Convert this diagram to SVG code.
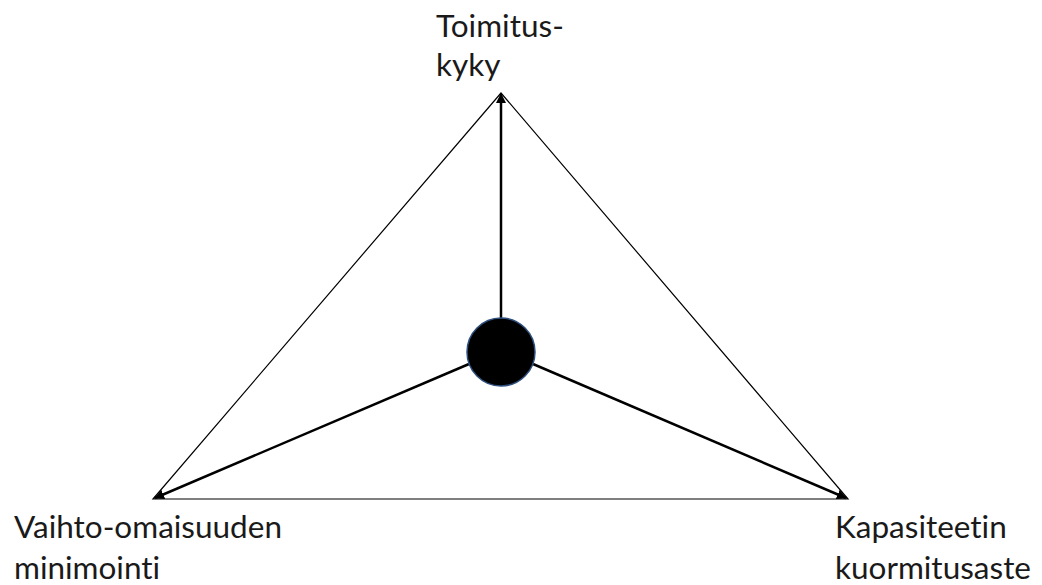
<svg xmlns="http://www.w3.org/2000/svg" width="1042" height="585" viewBox="0 0 1042 585">
<style>
.lbl{font-family:"Lato","Liberation Sans",sans-serif;font-size:31.5px;fill:#1a1a1a;font-variant-ligatures:none;font-feature-settings:"liga" 0,"dlig" 0}
.thin{stroke:#000;stroke-width:1.2;fill:none}
.thick{stroke:#000;stroke-width:2.5;fill:none;marker-end:url(#ah)}
</style>
<defs>
<marker id="ah" viewBox="0 0 10 10" refX="9" refY="5" markerWidth="4" markerHeight="4" orient="auto" markerUnits="strokeWidth">
<path d="M0,0 L10,5 L0,10 z" fill="#000"/>
</marker>
</defs>
<rect width="1042" height="585" fill="#fff"/>
<g id="triangle">
<polygon class="thin" points="501,93 153,499 848,499"/>
</g>
<g id="connectors">
<line class="thick" x1="501" y1="318" x2="501" y2="94"/>
<line class="thick" x1="469" y1="364" x2="155" y2="498"/>
<line class="thick" x1="533" y1="364" x2="846" y2="498"/>
</g>
<g id="center">
<circle cx="501" cy="352" r="34" fill="#000" stroke="#2f4f7f" stroke-width="1.5"/>
</g>
<g id="toimituskyky">
<text class="lbl" x="436" y="37">Toimitus-</text>
<text class="lbl" x="436" y="76">kyky</text>
</g>
<g id="vaihto">
<text class="lbl" x="14" y="538">Vaihto-omaisuuden</text>
<text class="lbl" x="14" y="579">minimointi</text>
</g>
<g id="kapasiteetti">
<text class="lbl" x="835" y="538">Kapasiteetin</text>
<text class="lbl" x="835" y="579">kuormitusaste</text>
</g>
</svg>
